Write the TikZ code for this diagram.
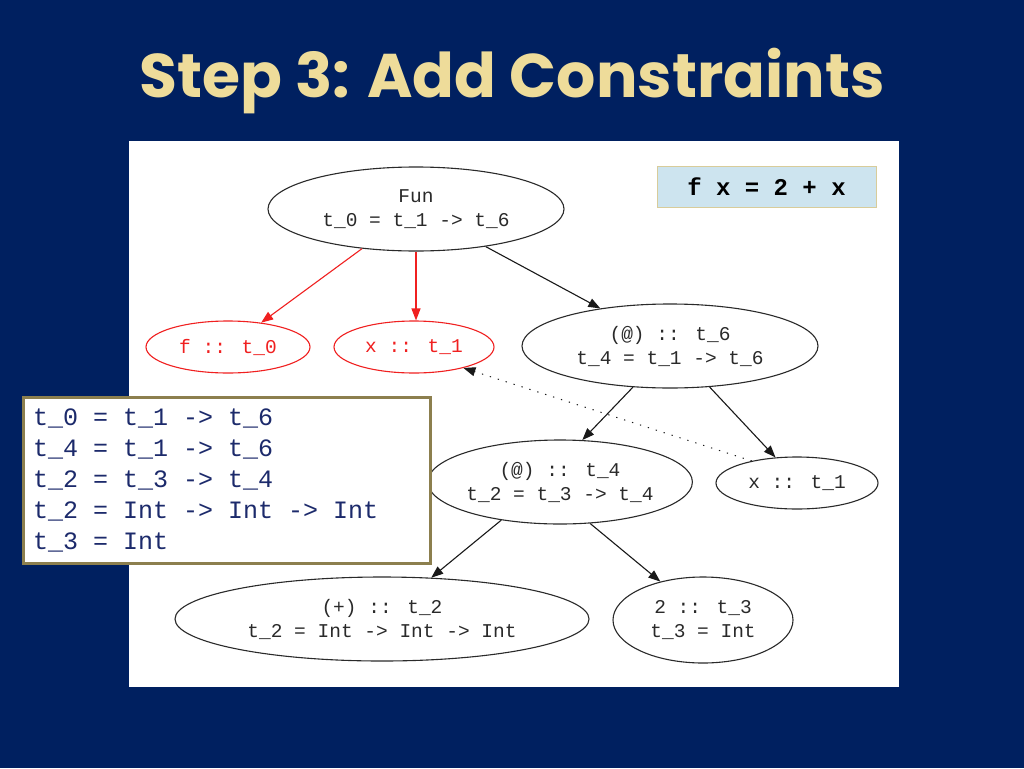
\documentclass[tikz,border=0pt]{standalone}
\usepackage{fontspec}
\usetikzlibrary{shapes.geometric,arrows.meta}
\newfontfamily\monofont{Liberation Mono}
\newfontfamily\titlefont{Poppins}
\definecolor{navy}{HTML}{002060}
\definecolor{titlecol}{HTML}{EEDC9A}
\definecolor{codefill}{HTML}{CDE4EF}
\definecolor{codeborder}{HTML}{D8CC9A}
\definecolor{boxborder}{HTML}{8C7F4E}
\definecolor{boxtext}{HTML}{1C2A6B}
\definecolor{nodeline}{HTML}{2A2A2A}
\definecolor{redline}{HTML}{F02020}
\tikzset{
  gnode/.style={ellipse, draw=nodeline, line width=1.1pt, inner sep=0pt, align=center,
    text=nodeline, font=\monofont\fontsize{19.5}{24}\selectfont},
  rnode/.style={gnode, draw=redline, text=redline},
  gedge/.style={draw=black!90, line width=1.1pt, -{Triangle[length=12pt,width=9pt]}},
  redge/.style={gedge, draw=redline, -{Triangle[length=12pt,width=9pt,fill=redline]}},
}
\begin{document}
\begin{tikzpicture}[x=1pt,y=-1pt]
\useasboundingbox (0,0) rectangle (1024,768);
\fill[navy] (0,0) rectangle (1024,768);
\node[text=titlecol, font=\titlefont\bfseries\fontsize{54}{60}\selectfont, inner sep=0pt] (title) at (512,81)
  {\resizebox{745pt}{!}{Step 3: Add Constraints}};
\fill[white] (129,141) rectangle (899,687);

\node[draw=codeborder, fill=codefill, line width=1pt, minimum width=219pt, minimum height=41pt,
  inner sep=0pt, font=\monofont\bfseries\fontsize{24}{28}\selectfont] (code) at (766.5,186.5) {f x = 2 + x};

\node[gnode, minimum width=296pt, minimum height=84pt] (fun) at (416,209) {Fun\\t\_0 = t\_1 -> t\_6};
\node[rnode, minimum width=164pt, minimum height=52pt] (f0) at (228,347) {f :: t\_0};
\node[rnode, minimum width=160pt, minimum height=52pt] (x1r) at (414,347) {x :: t\_1};
\node[gnode, minimum width=296pt, minimum height=84pt] (at6) at (670,346) {(@) :: t\_6\\t\_4 = t\_1 -> t\_6};
\node[gnode, minimum width=260pt, minimum height=84pt] (at4) at (560,482) {(@) :: t\_4\\t\_2 = t\_3 -> t\_4};
\node[gnode, minimum width=162pt, minimum height=52pt] (x1b) at (797,483) {x :: t\_1};
\node[gnode, minimum width=414pt, minimum height=84pt] (plus) at (382,619) {(+) :: t\_2\\t\_2 = Int -> Int -> Int};
\node[gnode, minimum width=180pt, minimum height=86pt] (two) at (703,620) {2 :: t\_3\\t\_3 = Int};

\draw[redge] (fun) -- (f0);
\draw[redge] (fun.south) -- (fun.south |- x1r.north);
\draw[gedge] (fun) -- (at6);
\draw[gedge] (at6.-132) -- (at4.62);
\draw[gedge] (at6.-46) -- (x1b.130);
\draw[gedge] (at4.-147) -- (plus.40);
\draw[gedge] (at4.-54) -- (two.138);
\draw[gedge, line width=1pt, dash pattern=on 1.3pt off 7pt] (x1b.154) -- (x1r.-23);

\node[draw=boxborder, fill=white, line width=2.5pt, anchor=north west, minimum width=407pt,
  minimum height=166pt, inner sep=0pt] (cons) at (22,396) {};
\node[anchor=west, align=left, inner sep=0pt, text=boxtext,
  font=\monofont\fontsize{25}{31}\selectfont] (constext) at ([xshift=11pt]cons.west)
  {t\_0 = t\_1 -> t\_6\\t\_4 = t\_1 -> t\_6\\t\_2 = t\_3 -> t\_4\\t\_2 = Int -> Int -> Int\\t\_3 = Int};
\end{tikzpicture}
\end{document}
